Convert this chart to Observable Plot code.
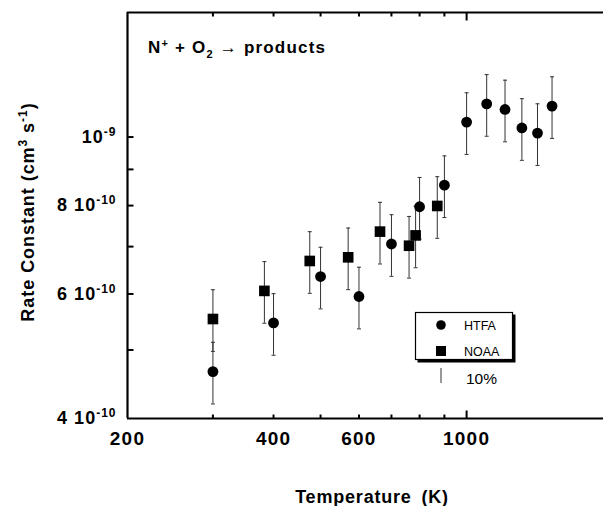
<!DOCTYPE html>
<html><head><meta charset="utf-8">
<script src="https://cdn.jsdelivr.net/npm/d3@7"></script>
<script src="https://cdn.jsdelivr.net/npm/@observablehq/plot@0.6"></script>
<style>
body{margin:0;background:#fff}
svg{display:block}
</style>
</head><body><div id="chart"></div>
<script>
// ---- data ----
const htfaT   = [300, 400, 500, 600, 700, 800, 900, 1000, 1100, 1200, 1300, 1400, 1500];
const htfaK   = [4.66e-10, 5.46e-10, 6.35e-10, 5.95e-10, 7.06e-10, 7.97e-10, 8.55e-10, 1.05e-9, 1.114e-9, 1.094e-9, 1.03e-9, 1.013e-9, 1.106e-9];
const htfaErr = [0.1, 0.1, 0.1, 0.1, 0.1, 0.1, 0.1, 0.1, 0.1, 0.1, 0.1, 0.1, 0.1];
const noaaT   = [300, 383, 475, 570, 663, 761, 785, 870];
const noaaK   = [5.53e-10, 6.06e-10, 6.68e-10, 6.76e-10, 7.35e-10, 7.02e-10, 7.26e-10, 7.99e-10];
const noaaErr = [0.1, 0.1, 0.1, 0.1, 0.1, 0.1, 0.1, 0.1];

const xDomain = [200, 1915];
const yDomain = [4e-10, 1.5e-9];
const xMinorTicks = [300, 400, 500, 600, 700, 800, 900];
const xMajorTicks = [1000];
const xTickLabels = [200, 400, 600, 800, 1000];
const yTicks = [5e-10, 6e-10, 7e-10, 8e-10, 9e-10, 1e-9];
const yTickValues = [4e-10, 6e-10, 8e-10, 1e-9];
const yTickLabels = ["4 10^{-10}", "6 10^{-10}", "8 10^{-10}", "10^{-9}"];
const seriesNames = ["HTFA", "NOAA"];
const scaleNote = "10%";
const titleText = "N^{+} + O_{2} \u2192 products";
const xTitle = "Temperature (K)";
const yTitle = "Rate Constant (cm^{3} s^{-1})";

// ---- build ----
const rows = (T, K, E) => T.map((t, i) => ({T: t, k: K[i], lo: K[i] * (1 - E[i]), hi: K[i] * (1 + E[i])}));
const htfa = rows(htfaT, htfaK, htfaErr);
const noaa = rows(noaaT, noaaK, noaaErr);
const all = htfa.concat(noaa);

const seg = (dx, dy) => ({draw(c) { c.moveTo(0, 0); c.lineTo(dx, dy); }});
const cap = {draw(c) { c.moveTo(-2, 0); c.lineTo(2, 0); }};
const FONT = "'Liberation Sans', Arial, Helvetica, sans-serif";

const plot = Plot.plot({
  width: 603,
  height: 506,
  marginLeft: 127,
  marginRight: 0,
  marginTop: 12,
  marginBottom: 88,
  style: {fontFamily: FONT, fontSize: "18px", fontWeight: "bold", background: "#fff", color: "#000", overflow: "visible"},
  x: {type: "log", domain: xDomain},
  y: {type: "log", domain: yDomain},
  marks: [
    // frame lines
    Plot.ruleY([yDomain[0], yDomain[1]], {stroke: "#000", strokeWidth: 2.2}),
    Plot.ruleX([xDomain[0]], {stroke: "#000", strokeWidth: 2.2}),
    // inward ticks
    Plot.dot(xMinorTicks, {x: d => d, y: () => yDomain[0], symbol: seg(0, -4), stroke: "#000", strokeWidth: 2, fill: "none"}),
    Plot.dot(xMajorTicks, {x: d => d, y: () => yDomain[0], symbol: seg(0, -8), stroke: "#000", strokeWidth: 2, fill: "none"}),
    Plot.dot(xMinorTicks, {x: d => d, y: () => yDomain[1], symbol: seg(0, 4), stroke: "#000", strokeWidth: 2, fill: "none"}),
    Plot.dot(xMajorTicks, {x: d => d, y: () => yDomain[1], symbol: seg(0, 8), stroke: "#000", strokeWidth: 2, fill: "none"}),
    Plot.dot(yTicks, {x: () => xDomain[0], y: d => d, symbol: seg(6, 0), stroke: "#000", strokeWidth: 2, fill: "none"}),
    // tick labels
    Plot.axisX(xTickLabels, {anchor: "bottom", tickSize: 0, tickPadding: 13, tickFormat: d3.format("d"), label: null, fontSize: 19}),
    Plot.axisY(yTickValues, {anchor: "left", tickSize: 0, tickPadding: 11, tickFormat: d => yTickLabels[yTickValues.indexOf(d)], label: null}),
    // error bars
    Plot.ruleX(all, {x: "T", y1: "lo", y2: "hi", stroke: "#333", strokeWidth: 1}),
    Plot.dot(all, {x: "T", y: "lo", symbol: cap, stroke: "#333", strokeWidth: 1, fill: "none"}),
    Plot.dot(all, {x: "T", y: "hi", symbol: cap, stroke: "#333", strokeWidth: 1, fill: "none"}),
    // markers
    Plot.dot(htfa, {x: "T", y: "k", symbol: "circle", r: 5.4, fill: "#000", stroke: "none"}),
    Plot.dot(noaa, {x: "T", y: "k", symbol: "square", r: 6, fill: "#000", stroke: "none"})
  ]
});

const svg = d3.select(plot);
const NS = "http://www.w3.org/2000/svg";

function rich(el, supSize, supShift, subShift) {
  const s = el.textContent;
  if (!/[\^_]\{/.test(s)) return;
  const re = /([\^_])\{([^}]*)\}/g;
  const parts = [];
  let last = 0, m;
  while ((m = re.exec(s))) {
    if (m.index > last) parts.push({t: s.slice(last, m.index), k: "n"});
    parts.push({t: m[2], k: m[1] === "^" ? "sup" : "sub"});
    last = re.lastIndex;
  }
  if (last < s.length) parts.push({t: s.slice(last), k: "n"});
  el.textContent = "";
  let shift = 0;
  for (const p of parts) {
    const ts = document.createElementNS(NS, "tspan");
    const target = p.k === "sup" ? supShift : p.k === "sub" ? subShift : 0;
    if (target !== shift) { ts.setAttribute("dy", target - shift); shift = target; }
    if (p.k !== "n") ts.setAttribute("font-size", supSize);
    ts.textContent = p.t;
    el.appendChild(ts);
  }
}

// tick label styling (slightly wider, like the scanned original)
svg.selectAll('g[aria-label="x-axis tick label"] text').attr("letter-spacing", 1.2);
svg.selectAll('g[aria-label="y-axis tick label"] text').attr("letter-spacing", 1);
svg.selectAll("text").each(function() { rich(this, 12, -7, 4); });

// title annotation
const title = svg.append("text")
  .attr("x", 148).attr("y", 53).attr("text-anchor", "start")
  .attr("font-size", 17).attr("font-weight", "bold").attr("letter-spacing", 1.2)
  .attr("font-family", FONT)
  .text(titleText);
rich(title.node(), 11, -6, 5);

// axis titles
svg.append("text")
  .attr("x", 372).attr("y", 503).attr("text-anchor", "middle")
  .attr("font-size", 18).attr("font-weight", "bold").attr("letter-spacing", 0.8).attr("word-spacing", 4)
  .attr("font-family", FONT)
  .text(xTitle);
const yt = svg.append("text")
  .attr("transform", "translate(34,212) rotate(-90)").attr("text-anchor", "middle")
  .attr("font-size", 18).attr("font-weight", "bold").attr("letter-spacing", 0.95)
  .attr("font-family", FONT)
  .text(yTitle);
rich(yt.node(), 12, -7, 4);

// legend
const lg = svg.append("g").attr("font-family", FONT).attr("font-weight", "normal").attr("text-anchor", "start");
lg.append("rect").attr("x", 417.5).attr("y", 314.5).attr("width", 98).attr("height", 48).attr("fill", "#000");
lg.append("rect").attr("x", 415.5).attr("y", 312.5).attr("width", 97).attr("height", 47).attr("fill", "#fff").attr("stroke", "#000").attr("stroke-width", 1.2);
lg.append("circle").attr("cx", 441).attr("cy", 325).attr("r", 4.8).attr("fill", "#000");
lg.append("rect").attr("x", 436).attr("y", 346).attr("width", 10).attr("height", 10).attr("fill", "#000");
lg.append("text").attr("x", 464).attr("y", 330).attr("font-size", 12.5).text(seriesNames[0]);
lg.append("text").attr("x", 464).attr("y", 356).attr("font-size", 12.5).text(seriesNames[1]);
lg.append("line").attr("x1", 441).attr("x2", 441).attr("y1", 368).attr("y2", 383).attr("stroke", "#333").attr("stroke-width", 1);
lg.append("text").attr("x", 466).attr("y", 384).attr("font-size", 15.5).text(scaleNote);

document.getElementById("chart").appendChild(plot);
</script>
</body></html>
